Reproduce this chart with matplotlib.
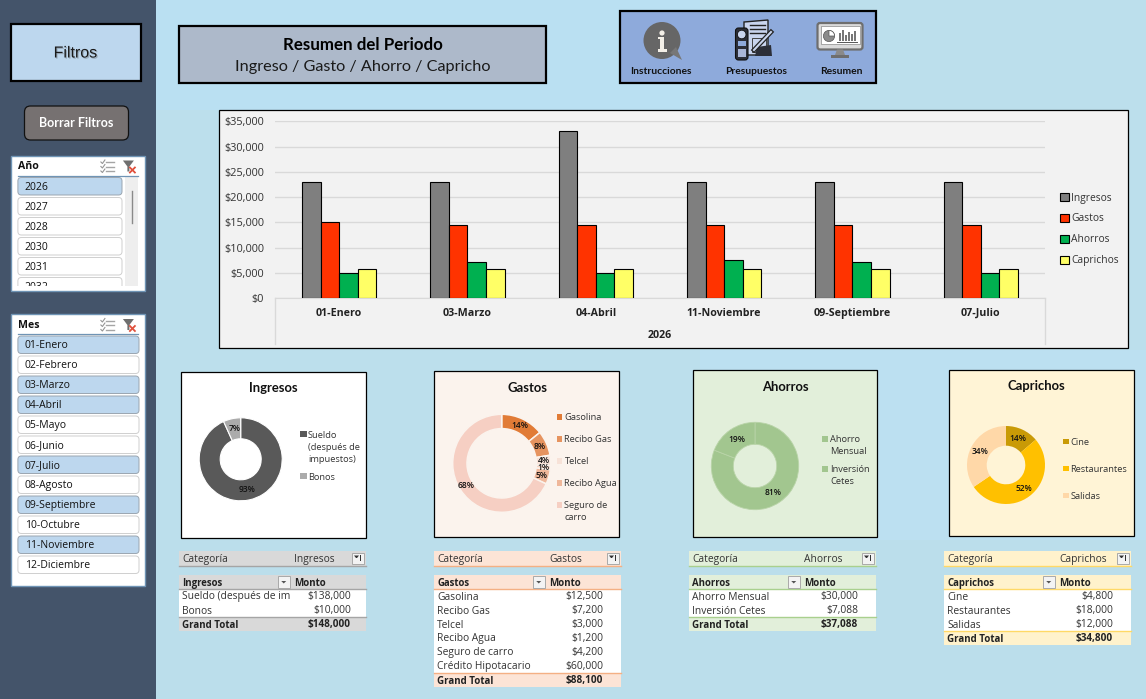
import numpy as np
import matplotlib
matplotlib.use("Agg")
import matplotlib.pyplot as plt
from matplotlib.patches import Rectangle, FancyBboxPatch, Circle, Polygon, Wedge
from matplotlib.ticker import FuncFormatter
import matplotlib.patheffects as pe

# ---------- data ----------
months = ["01-Enero", "03-Marzo", "04-Abril", "11-Noviembre", "09-Septiembre", "07-Julio"]
year_label = "2026"
ingresos = [23000, 23000, 33000, 23000, 23000, 23000]
gastos = [15100, 14500, 14500, 14500, 14500, 14500]
ahorros = [5000, 7200, 5000, 7500, 7200, 5000]
caprichos = [5800, 5800, 5800, 5800, 5800, 5800]
series_names = ["Ingresos", "Gastos", "Ahorros", "Caprichos"]
y_ticks = [0, 5000, 10000, 15000, 20000, 25000, 30000, 35000]

ing_labels = ["Sueldo (después de imp", "Bonos"]
ing_values = [138000, 10000]
ing_pct = ["93%", "7%"]
gas_labels = ["Gasolina", "Recibo Gas", "Telcel", "Recibo Agua", "Seguro de carro", "Crédito Hipotacario"]
gas_values = [12500, 7200, 3000, 1200, 4200, 60000]
gas_pct = ["14%", "8%", "4%", "1%", "5%", "68%"]
aho_labels = ["Ahorro Mensual", "Inversión Cetes"]
aho_values = [30000, 7088]
aho_pct = ["81%", "19%"]
cap_labels = ["Cine", "Restaurantes", "Salidas"]
cap_values = [4800, 18000, 12000]
cap_pct = ["14%", "52%", "34%"]

years = ["2026", "2027", "2028", "2030", "2031", "2032"]
selected_years = ["2026"]
all_months = ["01-Enero", "02-Febrero", "03-Marzo", "04-Abril", "05-Mayo", "06-Junio", "07-Julio",
              "08-Agosto", "09-Septiembre", "10-Octubre", "11-Noviembre", "12-Diciembre"]
selected_months = ["01-Enero", "03-Marzo", "04-Abril", "07-Julio", "09-Septiembre", "11-Noviembre"]

# ---------- canvas ----------
W, H = 1146, 699
plt.rcParams["font.family"] = ["Open Sans", "DejaVu Sans"]
fig = plt.figure(figsize=(W / 100, H / 100), dpi=100, facecolor="#BCDFEC")
bg = fig.add_axes([0, 0, 1, 1], zorder=0)
bg.set_xlim(0, W); bg.set_ylim(H, 0); bg.axis("off")
PT = 0.72
BODY = "Open Sans"
CAL = "Lato"


def rect(x0, y0, x1, y1, fc="none", ec="none", lw=0, z=1):
    r = Rectangle((x0, y0), x1 - x0, y1 - y0, facecolor=fc, edgecolor=ec, linewidth=lw, zorder=z)
    bg.add_patch(r)
    return r


def rrect(x0, y0, x1, y1, rad, fc, ec, lw=0.8, z=2):
    p = FancyBboxPatch((x0 + rad, y0 + rad), x1 - x0 - 2 * rad, y1 - y0 - 2 * rad,
                       boxstyle=f"round,pad={rad},rounding_size={rad}",
                       facecolor=fc, edgecolor=ec, linewidth=lw, zorder=z)
    bg.add_patch(p)
    return p


def txt(x, y, s, px=10, ha="left", color="#1a1a1a", bold=False, fam=BODY, z=5, **k):
    return bg.text(x, y + 1, s, fontsize=px * PT, ha=ha, va="center", color=color,
                   fontweight="bold" if bold else "normal", family=fam, zorder=z, **k)


# subtle background tonal bands
rect(156, 0, 700, 110, fc="#BAE0F2", z=0)
rect(700, 350, 1146, 540, fc="#BCE0F1", z=0)
rect(156, 540, 1146, 699, fc="#BBDEEB", z=0)

# ---------- sidebar ----------
rect(0, 0, 156, H, fc="#44546A", z=0.5)
rect(10.5, 24, 141, 81, fc="#BDD7EE", ec="black", lw=1.6)
t = txt(75.5, 52, "Filtros", px=16, ha="center", fam="Liberation Sans")
t.set_path_effects([pe.withSimplePatchShadow(offset=(0.8, -0.8), alpha=0.35, shadow_rgbFace="#555555")])
rrect(24.5, 106, 128.5, 140, 6, "#767171", "#111111", lw=0.9)
txt(76.5, 122, "Borrar Filtros", px=12.5, ha="center", color="white", bold=True, fam=CAL)


def slicer_icons(xa, xb, y):
    for i, dy in enumerate([-4.5, 0, 4.5]):
        bg.plot([xa + 5, xa + 13], [y + dy, y + dy], color="#a5a5a5", lw=1, zorder=4)
        bg.plot([xa, xa + 1.5, xa + 4], [y + dy, y + dy + 1.5, y + dy - 2], color="#959595", lw=0.8, zorder=4)
    bg.add_patch(Polygon([[xb - 5, y - 6], [xb + 6, y - 6], [xb + 1.5, y], [xb + 1.5, y + 5], [xb - 0.5, y + 5], [xb - 0.5, y]],
                         closed=True, fc="#6f6f6f", ec="none", zorder=4))
    bg.plot([xb + 2, xb + 7], [y + 1, y + 6], color="#E0503C", lw=1.3, zorder=5)
    bg.plot([xb + 7, xb + 2], [y + 1, y + 6], color="#E0503C", lw=1.3, zorder=5)


def slicer(x0, y0, x1, y1, title, items, selected, item_right, clip_bottom=None):
    rect(x0, y0, x1, y1, fc="white", ec="#6F94B5", lw=1)
    txt(x0 + 7, y0 + 10, title, px=10.5, bold=True, color="#111111")
    bg.plot([x0 + 7, x1 - 7], [y0 + 20, y0 + 20], color="#6F94B5", lw=0.9, zorder=3)
    slicer_icons(x0 + 90, x0 + 117, y0 + 11)
    clip = None
    if clip_bottom:
        clip = Rectangle((x0, y0), x1 - x0, clip_bottom - y0, transform=bg.transData)
    for i, it in enumerate(items):
        yi = y0 + 22 + 20 * i
        on = it in selected
        p = rrect(x0 + 7, yi, item_right, yi + 17.5, 3.5, "#BDD7EE" if on else "white",
                  "#9aa5b0" if on else "#CFCFCF", lw=0.7, z=3)
        s = txt(x0 + 14, yi + 8.5, it, px=10.4, color="#111111")
        if clip is not None:
            p.set_clip_path(clip)
            s.set_clip_on(True)
            s.set_clip_path(clip)


slicer(10.9, 155.5, 144.5, 291, "Año", years, selected_years, 122, clip_bottom=286)
rect(125, 176, 138, 286, fc="#EEEEEE", z=2.5)
bg.plot([131.5, 131.5], [191, 223], color="#8a8a8a", lw=1, zorder=3)
slicer(10.9, 314, 145, 586, "Mes", all_months, selected_months, 139)

# ---------- header boxes ----------
rect(178.5, 26, 546, 83, fc="#ADB9CA", ec="black", lw=1.6)
txt(363, 44, "Resumen del Periodo", px=16.9, ha="center", bold=True, color="black", fam=CAL)
txt(363, 66.5, "Ingreso / Gasto / Ahorro / Capricho", px=16.2, ha="center", color="#1a1a1a", fam=CAL)
rect(620, 11, 875.5, 83, fc="#8EAADB", ec="black", lw=1.6)
for x, s in [(661, "Instrucciones"), (756, "Presupuestos"), (841, "Resumen")]:
    txt(x, 70, s, px=10.2, ha="center", bold=True, color="#111111", fam=CAL)

# info icon
bg.add_patch(Circle((662, 40.5), 18.5, fc="#666666", ec="none", zorder=3))
bg.add_patch(Polygon([[670, 53], [682, 60], [676, 47]], closed=True, fc="#777777", ec="none", zorder=3))
bg.add_patch(Circle((662, 33), 2.6, fc="#f4f0e8", ec="none", zorder=4))
rect(660, 37, 664, 50, fc="#f4f0e8", z=4)
rect(657.5, 49, 666.5, 51.5, fc="#f4f0e8", z=4)
rect(658, 37, 662, 39.2, fc="#f4f0e8", z=4)

# budget icon
bg.add_patch(Polygon([[744, 22], [768, 20], [768, 55], [744, 55]], closed=True, fc="#C9D5EE", ec="#222222", lw=1, zorder=3))
for yy in [25, 29, 33]:
    bg.plot([750, 765], [yy, yy], color="#222222", lw=1, zorder=4)
rect(752, 38, 766, 52, ec="#444444", lw=0.7, z=4)
rrect(735.5, 28, 748, 60, 3, "#2c2f38", "#111111", lw=0.8, z=5)
bg.add_patch(Circle((741.7, 34.5), 4.3, fc="#C9D5EE", ec="#111111", lw=0.6, zorder=6))
rect(738, 41, 745.5, 46, fc="#8EAADB", z=6)
rect(738, 49, 745.5, 57, fc="#A9B6D6", z=6)
bg.plot([754, 771], [50, 32], color="#222222", lw=3.3, zorder=6)
bg.plot([754, 771], [50, 32], color="#C9D5EE", lw=1.5, zorder=6)
bg.add_patch(Polygon([[757, 47], [771, 45], [772, 56], [755, 56]], closed=True, fc="#2c2f38", ec="none", zorder=5))

# monitor icon
rrect(817.5, 23, 862.5, 49.5, 2.5, "#DADADA", "#6E6E6E", lw=1.6, z=3)
rect(820.5, 25.5, 859.5, 44, fc="white", ec="#888888", lw=0.5, z=4)
bg.add_patch(Circle((829, 36), 5.6, fc="#8A8A8A", ec="#555555", lw=0.5, zorder=5))
bg.add_patch(Wedge((829, 36), 5.6, 270, 360, fc="white", ec="#555555", lw=0.5, zorder=6))
for xx, hh in [(839, 8), (842, 11), (845, 6), (848, 9), (851, 7), (854, 10)]:
    rect(xx, 41 - hh, xx + 1.6, 41, fc="#777777", z=5)
bg.plot([837, 857], [41.5, 41.5], color="#555555", lw=0.7, zorder=5)
bg.add_patch(Polygon([[837, 49.5], [843, 49.5], [845, 55], [835, 55]], closed=True, fc="#8A8A8A", ec="none", zorder=3))
rect(831, 55, 849, 57.5, fc="#6E6E6E", z=3)

# ---------- main bar chart ----------
rect(218.9, 109.5, 1127.5, 348, fc="#F2F2F2", ec="black", lw=0.9)
ax = fig.add_axes([275 / W, 1 - 298.3 / H, (1045 - 275) / W, (298.3 - 121.3) / H], zorder=2)
ax.patch.set_visible(False)
bar_colors = ["#7F7F7F", "#FF3300", "#00B050", "#FFFF66"]
bar_w = 0.1445
x_pos = np.arange(len(months))
for i, (vals, c, nm) in enumerate(zip([ingresos, gastos, ahorros, caprichos], bar_colors, series_names)):
    ax.bar(x_pos + (i - 1.5) * bar_w, vals, bar_w, color=c, edgecolor="black", linewidth=0.8, label=nm, zorder=3)
ax.set_xlim(-0.5, len(months) - 0.5)
ax.set_ylim(0, 35000)
ax.set_yticks(y_ticks)
ax.yaxis.set_major_formatter(FuncFormatter(lambda v, _: f"${v:,.0f}"))
ax.yaxis.grid(True, color="#D9D9D9", lw=1)
ax.set_axisbelow(True)
ax.set_xticks(x_pos)
ax.set_xticklabels(months, fontsize=10.6 * PT, fontweight="bold", family=BODY, color="#222222")
ax.tick_params(axis="x", length=0, pad=7)
ax.tick_params(axis="y", length=0, pad=8, labelsize=10.9 * PT, labelcolor="#333333")
for lab in ax.get_yticklabels():
    lab.set_verticalalignment("center_baseline")
for s in ["top", "left", "right"]:
    ax.spines[s].set_visible(False)
ax.spines["bottom"].set_color("#D9D9D9")
ax.text(0.5, (298.3 - 336) / (298.3 - 121.3), year_label, transform=ax.transAxes, ha="center", va="center",
        fontsize=10.6 * PT, fontweight="bold", family=BODY, color="#222222")
bg.plot([275, 275], [298, 344], color="#D9D9D9", lw=1, zorder=2)
bg.plot([1045, 1045], [298, 344], color="#D9D9D9", lw=1, zorder=2)
ax.legend(loc="upper left", bbox_to_anchor=(1060 / W, 1 - 192.5 / H), bbox_transform=fig.transFigure,
          frameon=False, prop={"size": 10.2 * PT, "family": BODY}, labelcolor="#333333",
          handlelength=0.85, handleheight=0.85, handletextpad=0.25, labelspacing=0.98, borderpad=0, borderaxespad=0)

# ---------- doughnuts ----------


def donut(cx, cy, R, r, values, colors, pcts, edge, edge_lw=0.9):
    a = fig.add_axes([(cx - R) / W, 1 - (cy + R) / H, 2 * R / W, 2 * R / H], zorder=2)
    it = iter(pcts)
    a.pie(values, colors=colors, startangle=90, counterclock=False, radius=1,
          wedgeprops=dict(width=(R - r) / R, edgecolor=edge, linewidth=edge_lw),
          autopct=lambda _: next(it), pctdistance=(R + r) / (2 * R),
          textprops=dict(fontsize=8.4 * PT, color="#111111", family=BODY, fontweight="semibold"))
    a.set_xlim(-1, 1); a.set_ylim(-1, 1)


def panel(x0, y0, x1, y1, fc, title, tx, ty):
    rect(x0, y0, x1, y1, fc=fc, ec="black", lw=0.9)
    txt(tx, ty, title, px=13, ha="center", bold=True, color="#111111", fam=CAL)


def dleg(xm, sz, xt, entries, color_list):
    for (lines, ys), c in zip(entries, color_list):
        rect(xm, ys[0] - sz / 2, xm + sz, ys[0] + sz / 2, fc=c, z=3)
        for ln, y in zip(lines, ys):
            txt(xt, y, ln, px=9.3, color="#333333")


ing_colors = ["#595959", "#ABABAB"]
panel(180.8, 372, 366, 538, "white", "Ingresos", 273.5, 387)
donut(240.7, 459.3, 41.5, 20.5, ing_values, ing_colors, ing_pct, "white", 0.8)
dleg(300, 6.5, 308, [(["Sueldo", "(después de", "impuestos)"], [434, 446.5, 458.5]), (["Bonos"], [476])], ing_colors)

gas_colors = ["#E17B36", "#E6935F", "#F7E2D8", "#F5D3C2", "#EFB79A", "#F6CFC3"]
panel(433.8, 371, 619, 537, "#FBF3ED", "Gastos", 527, 387)
donut(501.7, 463.3, 49, 34.7, gas_values, gas_colors, gas_pct, "#FBF3ED", 1.1)
dleg(556.5, 5.5, 564.5, [(["Gasolina"], [417]), (["Recibo Gas"], [439]), (["Telcel"], [461]),
                         (["Recibo Agua"], [483]), (["Seguro de", "carro"], [505, 517])],
     [gas_colors[0], gas_colors[1], gas_colors[2], gas_colors[4], gas_colors[5]])

aho_colors = ["#A2C68F", "#A2C68F"]
panel(692.8, 370, 877, 536.5, "#E2EFDA", "Ahorros", 785, 386)
donut(755, 466, 43.7, 21.7, aho_values, aho_colors, aho_pct, "#B9D4A8", 0.6)
dleg(822, 6, 830.5, [(["Ahorro", "Mensual"], [439, 451]), (["Inversión", "Cetes"], [469, 481])], aho_colors)

cap_colors = ["#C99A06", "#FFC000", "#FFD8A8"]
panel(948.8, 370, 1133.5, 536, "#FFF4D6", "Caprichos", 1036, 385)
donut(1006, 465, 39, 19.3, cap_values, cap_colors, cap_pct, "none", 0)
dleg(1063, 5.5, 1070.5, [(["Cine"], [441.5]), (["Restaurantes"], [468.5]), (["Salidas"], [495.5])], cap_colors)


# ---------- pivot tables ----------
def button(x0, y0, x1, y1, kind):
    rect(x0, y0, x1, y1, fc="#F3F3F3", ec="#A9A9A9", lw=0.7, z=3)
    cx, cy = (x0 + x1) / 2, (y0 + y1) / 2
    if kind == "filter":
        bg.add_patch(Polygon([[cx - 4, cy - 2.5], [cx + 1, cy - 2.5], [cx - 1, cy], [cx - 2, cy]], closed=True, fc="#333333", ec="none", zorder=4))
        rect(cx + 1.5, cy - 3, cx + 3, cy + 3, fc="#333333", z=4)
    else:
        bg.add_patch(Polygon([[cx - 2.5, cy - 1], [cx + 2.5, cy - 1], [cx, cy + 1.5]], closed=True, fc="#555555", ec="none", zorder=4))


def pivot(x0, head, line, name, labels, values, right, clip_first=False):
    w = 187
    x1 = x0 + w
    rect(x0, 551, x1, 565.5, fc=head, z=1)
    bg.plot([x0, x1], [565.5, 565.5], color=line, lw=1, zorder=2)
    txt(x0 + 3, 558.5, "Categoría", px=10.2, color="#333333")
    txt(x0 + 115, 558.5, name, px=10.2, color="#333333")
    button(x0 + 173, 552.5, x0 + 185, 563.5, "filter")
    rect(x0, 575, x1, 589, fc=head, z=1)
    bg.plot([x0, x1], [589, 589], color=line, lw=1, zorder=2)
    txt(x0 + 3, 582.5, name, px=9.6, bold=True, color="#222222")
    txt(x0 + 115, 582.5, "Monto", px=9.8, bold=True, color="#222222")
    button(x0 + 98.5, 576, x0 + 111, 588, "sort")
    n = len(labels)
    rect(x0, 589, x1, 589 + 14 * n, fc="white", z=1)
    for i, (lb, v) in enumerate(zip(labels, values)):
        yc = 596 + 14 * i
        t = txt(x0 + 3, yc, lb, px=10.2, color="#333333")
        if clip_first and i == 0:
            t.set_clip_on(True)
            t.set_clip_path(Rectangle((x0, 589), 111, 14, transform=bg.transData))
        txt(x0 + right, yc, f"${v:,.0f}", px=10.2, ha="right", color="#333333")
    yt = 589 + 14 * n
    rect(x0, yt, x1, yt + 14, fc=head, z=1)
    bg.plot([x0, x1], [yt, yt], color=line, lw=1, zorder=2)
    txt(x0 + 3, yt + 7, "Grand Total", px=9.8, bold=True, color="#222222")
    txt(x0 + right, yt + 7, f"${sum(values):,.0f}", px=10, ha="right", bold=True, color="#222222")


pivot(179, "#D9D9D9", "#A5A5A5", "Ingresos", ing_labels, ing_values, 172, clip_first=True)
pivot(434, "#FCE4D6", "#F4B084", "Gastos", gas_labels, gas_values, 169)
pivot(689, "#E2EFDA", "#A9D08E", "Ahorros", aho_labels, aho_values, 169)
pivot(944, "#FFF2CC", "#FFD966", "Caprichos", cap_labels, cap_values, 169)

fig.savefig("out.png", dpi=100, facecolor=fig.get_facecolor())
